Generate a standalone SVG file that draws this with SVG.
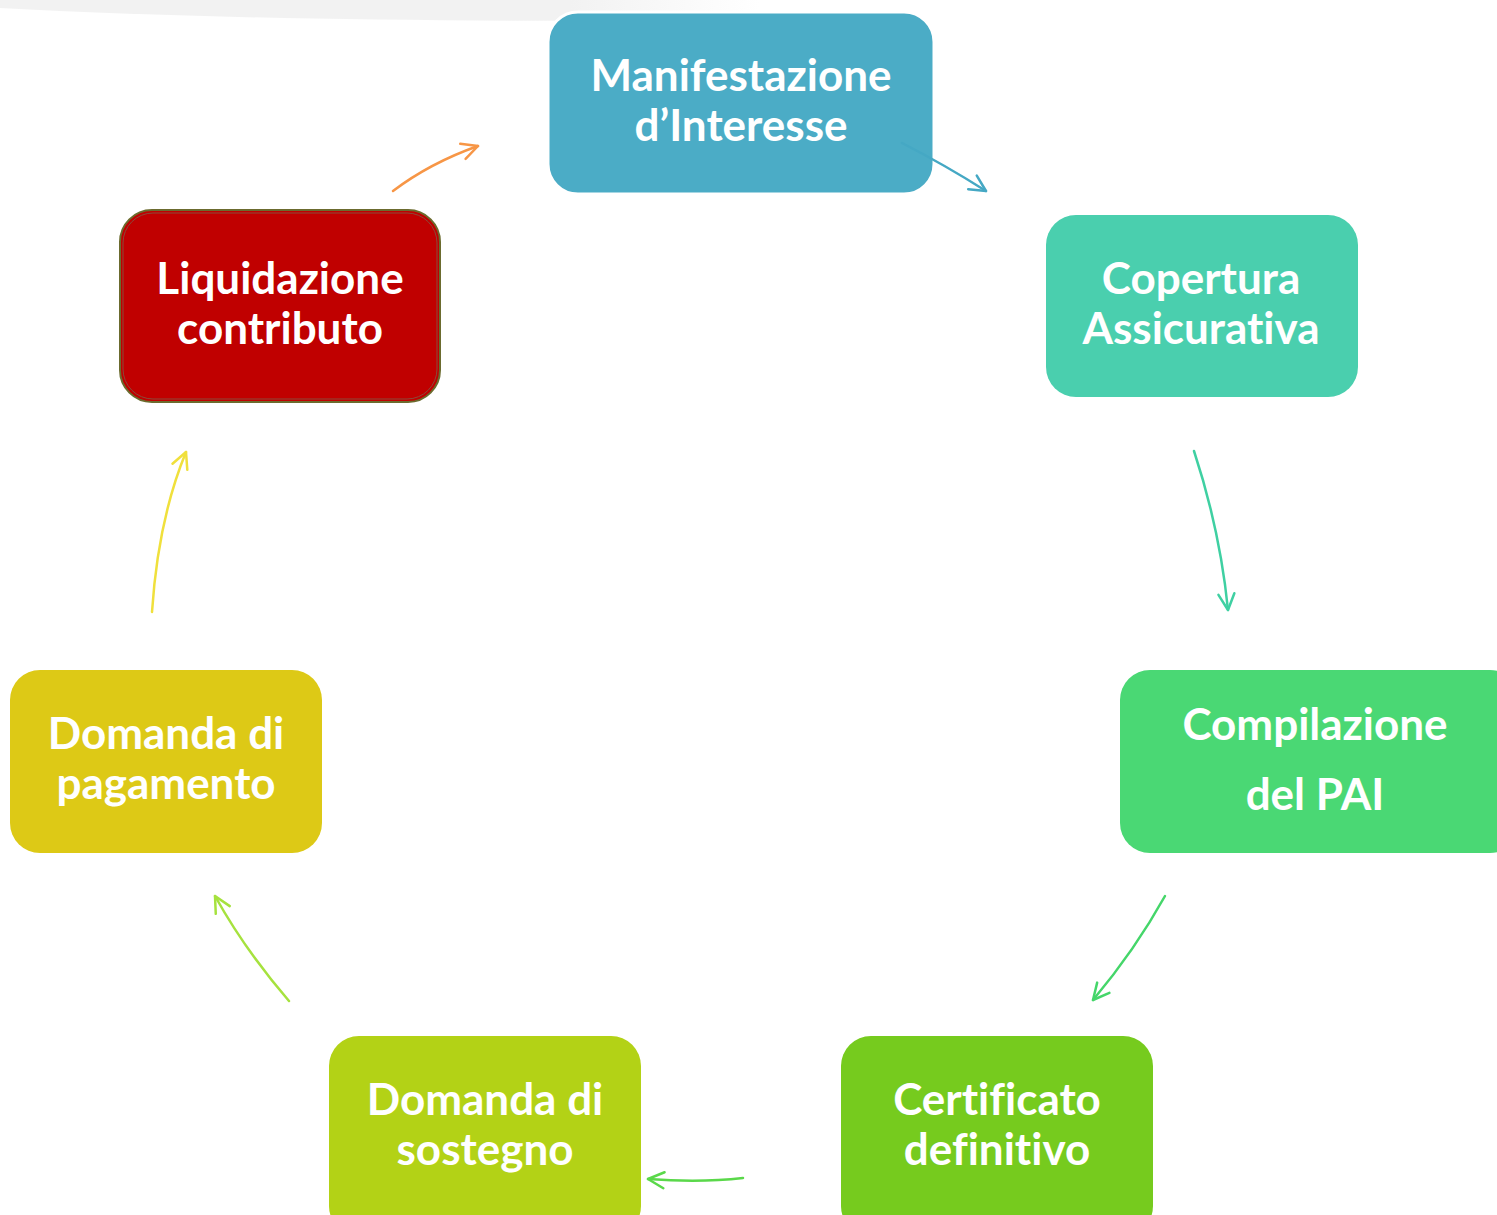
<svg xmlns="http://www.w3.org/2000/svg" width="1497" height="1215" viewBox="0 0 1497 1215">
<style>
.lbl{font-family:Lato,"Liberation Sans",sans-serif;font-weight:700;font-size:44px;fill:#fff;text-anchor:middle;font-variant-ligatures:none}
.con{fill:none;stroke-width:2.5;stroke-linecap:round}
</style>
<defs>
<marker id="ah" viewBox="0 0 20 20" refX="18" refY="10" markerWidth="20" markerHeight="20" markerUnits="userSpaceOnUse" orient="auto">
<path d="M2,2 L18,10 L2,18" fill="none" stroke="context-stroke" stroke-width="2.5" stroke-linecap="round" stroke-linejoin="round"/>
</marker>
<linearGradient id="band" x1="0" y1="0" x2="1" y2="0">
<stop offset="0" stop-color="#F2F2F2"/>
<stop offset="0.75" stop-color="#F2F2F2"/>
<stop offset="1" stop-color="#F2F2F2" stop-opacity="0"/>
</linearGradient>
</defs>
<rect width="1497" height="1215" fill="#fff"/>
<path d="M0,0 L760,0 L760,20 Q300,24 0,8 Z" fill="url(#band)"/>
<g id="n-manifestazione">
<rect x="548" y="12" width="386" height="182" rx="30" fill="#4BACC6" stroke="#fff" stroke-width="3"/>
<text class="lbl" x="741" y="91">Manifestazione</text>
<text class="lbl" x="741" y="141">d’Interesse</text>
</g>
<g id="n-copertura">
<rect x="1046" y="215" width="312" height="182" rx="30" fill="#4ACFAE"/>
<text class="lbl" x="1201" y="294">Copertura</text>
<text class="lbl" x="1201" y="344">Assicurativa</text>
</g>
<g id="n-compilazione">
<rect x="1120" y="670" width="400" height="183" rx="30" fill="#4AD874"/>
<text class="lbl" x="1315" y="740">Compilazione</text>
<text class="lbl" x="1315" y="810">del PAI</text>
</g>
<g id="n-certificato">
<rect x="841" y="1036" width="312" height="200" rx="30" fill="#76CB1E"/>
<text class="lbl" x="997" y="1115">Certificato</text>
<text class="lbl" x="997" y="1165">definitivo</text>
</g>
<g id="n-sostegno">
<rect x="329" y="1036" width="312" height="200" rx="30" fill="#B3D216"/>
<text class="lbl" x="485" y="1115">Domanda di</text>
<text class="lbl" x="485" y="1165">sostegno</text>
</g>
<g id="n-pagamento">
<rect x="10" y="670" width="312" height="183" rx="30" fill="#DDC916"/>
<text class="lbl" x="166" y="749">Domanda di</text>
<text class="lbl" x="166" y="799">pagamento</text>
</g>
<g id="n-liquidazione">
<rect x="120" y="210" width="320" height="192" rx="32" fill="#C00000" stroke="#6B6B2E" stroke-width="2"/>
<rect x="123" y="213" width="314" height="186" rx="30" fill="none" stroke="#8A4A3A" stroke-width="1"/>
<text class="lbl" x="280" y="294">Liquidazione</text>
<text class="lbl" x="280" y="344">contributo</text>
</g>
<g id="connectors">
<path class="con" d="M393,191 Q430,163 478,146" stroke="#F79646" marker-end="url(#ah)"/>
<path class="con" d="M902,143 Q945,165 986,191" stroke="#45A8C4" marker-end="url(#ah)"/>
<path class="con" d="M1194,451 Q1220,530 1228,610" stroke="#3FD0A2" marker-end="url(#ah)"/>
<path class="con" d="M1165,896 Q1135,950 1093,1000" stroke="#45D66A" marker-end="url(#ah)"/>
<path class="con" d="M743,1178 Q700,1183 648,1179" stroke="#5AD84A" marker-end="url(#ah)"/>
<path class="con" d="M289,1001 Q245,950 215,896" stroke="#A6E23E" marker-end="url(#ah)"/>
<path class="con" d="M152,612 Q158,520 186,452" stroke="#F0E03C" marker-end="url(#ah)"/>
</g>
</svg>
